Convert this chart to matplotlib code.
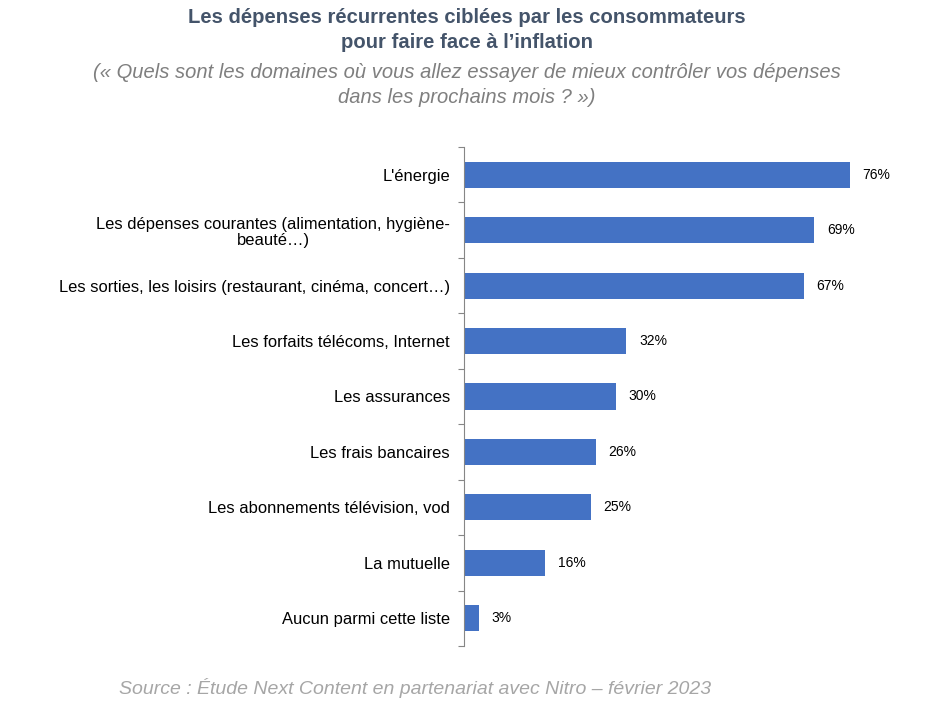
import matplotlib.pyplot as plt

categories = [
    "L'énergie",
    "Les dépenses courantes (alimentation, hygiène-\nbeauté…)",
    "Les sorties, les loisirs (restaurant, cinéma, concert…)",
    "Les forfaits télécoms, Internet",
    "Les assurances",
    "Les frais bancaires",
    "Les abonnements télévision, vod",
    "La mutuelle",
    "Aucun parmi cette liste",
]
values = [76, 69, 67, 32, 30, 26, 25, 16, 3]
value_labels = ["76%", "69%", "67%", "32%", "30%", "26%", "25%", "16%", "3%"]

plt.rcParams['font.family'] = ['Liberation Sans', 'DejaVu Sans']

W, H = 932, 708
fig = plt.figure(figsize=(W / 100, H / 100), dpi=100)
ax = fig.add_axes([464 / W, (H - 646) / H, 457 / W, 499 / H])

pos = list(range(len(categories)))
ax.barh(pos, values, height=0.47, color="#4472C4")
ax.set_ylim(len(categories) - 0.5, -0.5)
ax.set_xlim(0, 90)

for p, v, lab in zip(pos, values, value_labels):
    ax.annotate(lab, (v, p), xytext=(9, 0), textcoords="offset points",
                va="center", ha="left", fontsize=10, color="#000000")

# category boundaries carry the ticks, labels sit in between
ax.set_yticks([p - 0.5 for p in pos] + [len(pos) - 0.5])
ax.set_yticklabels([])
ax.set_yticks(pos, minor=True)
ax.set_yticklabels(categories, minor=True, fontsize=11.9, ha="right",
                   multialignment="center", linespacing=1.15)
ax.tick_params(axis="y", which="major", length=4, width=0.8, color="#868686")
ax.tick_params(axis="y", which="minor", length=0, pad=10)
ax.set_xticks([])
for s in ["top", "right", "bottom"]:
    ax.spines[s].set_visible(False)
ax.spines["left"].set_color("#868686")
ax.spines["left"].set_linewidth(0.8)

fig.text(467 / W, 1 - 30 / H,
         "Les dépenses récurrentes ciblées par les consommateurs\npour faire face à l’inflation",
         ha="center", va="center", fontsize=14.6, fontweight="bold",
         color="#44546A", linespacing=1.4)
fig.text(467 / W, 1 - 85 / H,
         "(« Quels sont les domaines où vous allez essayer de mieux contrôler vos dépenses\ndans les prochains mois ? »)",
         ha="center", va="center", fontsize=14.5, style="italic",
         color="#7F7F7F", linespacing=1.35)
fig.text(415 / W, 1 - 688 / H,
         "Source : Étude Next Content en partenariat avec Nitro – février 2023",
         ha="center", va="center", fontsize=14, style="italic", color="#A6A6A6")

fig.savefig("out.png", dpi=100)
